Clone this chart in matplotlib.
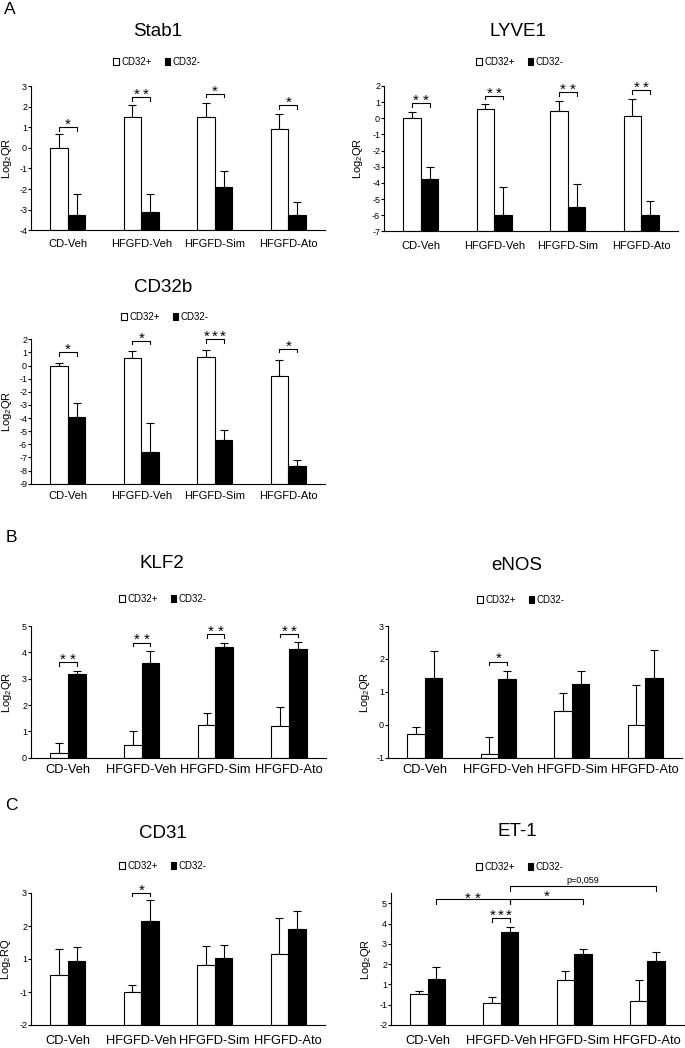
import matplotlib
matplotlib.use('Agg')
import matplotlib.pyplot as plt
from matplotlib.patches import Patch
import numpy as np

plt.rcParams['font.family'] = ['Liberation Sans', 'DejaVu Sans']

# ---------------- data ----------------
groups = ['CD-Veh', 'HFGFD-Veh', 'HFGFD-Sim', 'HFGFD-Ato']
legend_labels = ['CD32+', 'CD32-']

stab1_plus = [0.00, 1.48, 1.52, 0.92]
stab1_plus_err = [0.65, 0.58, 0.64, 0.73]
stab1_minus = [-3.27, -3.10, -1.90, -3.27]
stab1_minus_err = [1.04, 0.87, 0.77, 0.64]
stab1_sig = ['*', '**', '*', '*']
stab1_sig_y = [1.00, 2.45, 2.61, 2.06]

lyve1_plus = [0.00, 0.60, 0.45, 0.12]
lyve1_plus_err = [0.41, 0.27, 0.64, 1.06]
lyve1_minus = [-3.73, -5.98, -5.48, -5.96]
lyve1_minus_err = [0.74, 1.71, 1.42, 0.83]
lyve1_sig = ['**', '**', '**', '**']
lyve1_sig_y = [0.93, 1.40, 1.60, 1.73]

cd32b_plus = [0.00, 0.60, 0.65, -0.80]
cd32b_plus_err = [0.23, 0.53, 0.55, 1.24]
cd32b_minus = [-3.90, -6.59, -5.70, -7.68]
cd32b_minus_err = [1.02, 2.24, 0.79, 0.51]
cd32b_sig = ['*', '*', '***', '*']
cd32b_sig_y = [1.00, 1.88, 2.00, 1.28]

klf2_plus = [0.18, 0.50, 1.25, 1.21]
klf2_plus_err = [0.37, 0.52, 0.44, 0.70]
klf2_minus = [3.16, 3.58, 4.20, 4.14]
klf2_minus_err = [0.13, 0.47, 0.15, 0.24]
klf2_sig = ['**', '**', '**', '**']
klf2_sig_y = [3.62, 4.37, 4.68, 4.71]

enos_plus = [-0.29, -0.90, 0.43, -0.02]
enos_plus_err = [0.23, 0.53, 0.54, 1.24]
enos_minus = [1.43, 1.40, 1.23, 1.43]
enos_minus_err = [0.81, 0.23, 0.41, 0.85]
enos_sig = ['', '*', '', '']
enos_sig_y = [0, 1.92, 0, 0]

# CD31 and ET-1: axis positions as drawn (tick labels skip "0" in the original)
cd31_plus = [0.52, 0.00, 0.82, 1.15]
cd31_plus_err = [0.79, 0.21, 0.58, 1.09]
cd31_minus = [0.93, 2.16, 1.04, 1.91]
cd31_minus_err = [0.43, 0.63, 0.39, 0.54]
cd31_sig = ['', '*', '', '']
cd31_sig_y = [0, 3.00, 0, 0]
cd31_ticks = [-1, 0, 1, 2, 3]
cd31_ticklabels = ['-2', '-1', '1', '2', '3']

et1_plus = [0.52, 0.08, 1.21, 0.16]
et1_plus_err = [0.17, 0.28, 0.46, 1.07]
et1_minus = [1.28, 3.57, 2.49, 2.16]
et1_minus_err = [0.57, 0.25, 0.28, 0.46]
et1_sig = ['', '***', '', '']
et1_sig_y = [0, 4.26, 0, 0]
et1_ticks = [-1, 0, 1, 2, 3, 4, 5]
et1_ticklabels = ['-2', '-1', '1', '2', '3', '4', '5']
# cross-group comparisons (from HFGFD-Veh CD32-)
et1_cross_from = [0, 1, 1]
et1_cross_to = [1, 2, 3]
et1_cross_y = [5.22, 5.22, 5.87]
et1_cross_text = ['**', '*', 'p=0,059']

# ---------------- figure ----------------
W, H = 685, 1048
fig = plt.figure(figsize=(W / 100, H / 100), dpi=100)
BW = 0.24
LW = 0.8
STAR_FS = 11


def stars(ax, label, x, y, dy_pt):
    n = len(label)
    pitch = 7.0 if n == 2 else 5.9
    for k in range(n):
        ax.annotate('*', xy=(x, y), xytext=((k - (n - 1) / 2) * pitch, dy_pt),
                    textcoords='offset points', ha='center', va='baseline',
                    fontsize=STAR_FS, annotation_clip=False)


def axes_px(x0, x1, y0, y1):
    return fig.add_axes([x0 / W, 1 - y1 / H, (x1 - x0) / W, (y1 - y0) / H])


def panel(box, title, title_xy, legend_xy, ylabel, ylabel_x, ylim, yticks, yticklabels,
          plus, plus_err, minus, minus_err, sig, sig_y, xfs, xpad):
    ax = axes_px(*box)
    x = np.arange(len(groups))
    ymin = ylim[0]
    ax.bar(x - BW / 2, np.array(plus) - ymin, BW, bottom=ymin, color='white',
           edgecolor='black', linewidth=LW, zorder=2)
    ax.bar(x + BW / 2, np.array(minus) - ymin, BW, bottom=ymin, color='black',
           edgecolor='black', linewidth=LW, zorder=2)
    ax.errorbar(x - BW / 2, plus, yerr=[np.zeros(4), plus_err], fmt='none', ecolor='black',
                elinewidth=LW, capsize=3.2, capthick=LW, zorder=1)
    ax.errorbar(x + BW / 2, minus, yerr=[np.zeros(4), minus_err], fmt='none', ecolor='black',
                elinewidth=LW, capsize=3.2, capthick=LW, zorder=1)
    ax.set_xlim(-0.5, 3.5)
    ax.set_ylim(ylim)
    for s in ['top', 'right']:
        ax.spines[s].set_visible(False)
    for s in ['left', 'bottom']:
        ax.spines[s].set_linewidth(LW)
    ax.set_xticks(x)
    ax.set_xticklabels(groups, fontsize=xfs)
    ax.tick_params(axis='x', length=0, pad=xpad)
    ax.set_yticks(yticks)
    ax.set_yticklabels(yticklabels, fontsize=6.5)
    ax.tick_params(axis='y', direction='out', length=2, width=LW, pad=0.8)

    hpx = box[3] - box[2]
    upp = (ylim[1] - ylim[0]) / hpx  # data units per pixel
    for i, (s, yb) in enumerate(zip(sig, sig_y)):
        if not s:
            continue
        x1, x2 = i - BW / 2, i + BW / 2
        d = 3.3 * upp
        ax.plot([x1, x1, x2, x2], [yb - d, yb, yb, yb - d], color='black', lw=LW,
                clip_on=False, zorder=3)
        stars(ax, s, i, yb, -1.2)

    fig.text(title_xy[0] / W, 1 - title_xy[1] / H, title, ha='center', va='center',
             fontsize=13.5)
    handles = [Patch(facecolor='white', edgecolor='black', linewidth=LW),
               Patch(facecolor='black', edgecolor='black', linewidth=LW)]
    fig.legend(handles, legend_labels, loc='center',
               bbox_to_anchor=(legend_xy[0] / W, 1 - legend_xy[1] / H), ncol=2,
               frameon=False, fontsize=7, handlelength=0.6, handleheight=0.6,
               handletextpad=0.25, columnspacing=1.3, borderpad=0, borderaxespad=0)
    cy = (box[2] + box[3]) / 2
    fig.text(ylabel_x / W, 1 - cy / H, ylabel, rotation=90, ha='center', va='center',
             fontsize=8)
    return ax, upp


LQR = 'Log$_\\mathregular{2}$QR'
LRQ = 'Log$_\\mathregular{2}$RQ'

panel((31, 325, 86, 230.3), 'Stab1', (158, 31), (157, 62), LQR, 7.5, (-4, 3),
      list(range(-4, 4)), [str(v) for v in range(-4, 4)],
      stab1_plus, stab1_plus_err, stab1_minus, stab1_minus_err, stab1_sig, stab1_sig_y, 8, 6.3)

panel((384, 678, 86, 231.3), 'LYVE1', (518, 31), (520, 62), LQR, 358, (-7, 2),
      list(range(-7, 3)), [str(v) for v in range(-7, 3)],
      lyve1_plus, lyve1_plus_err, lyve1_minus, lyve1_minus_err, lyve1_sig, lyve1_sig_y, 8, 6.7)

panel((31, 325, 339.3, 483.7), 'CD32b', (163, 287), (165, 317), LQR, 7.5, (-9, 2),
      list(range(-9, 3)), [str(v) for v in range(-9, 3)],
      cd32b_plus, cd32b_plus_err, cd32b_minus, cd32b_minus_err, cd32b_sig, cd32b_sig_y, 8, 5.2)

panel((31, 326, 626, 757.7), 'KLF2', (162, 563), (163, 599), LQR, 7.5, (0, 5),
      list(range(0, 6)), [str(v) for v in range(0, 6)],
      klf2_plus, klf2_plus_err, klf2_minus, klf2_minus_err, klf2_sig, klf2_sig_y, 9.3, 4.5)

panel((388, 682, 626, 757.7), 'eNOS', (517, 565), (521, 600), LQR, 365, (-1, 3),
      list(range(-1, 4)), [str(v) for v in range(-1, 4)],
      enos_plus, enos_plus_err, enos_minus, enos_minus_err, enos_sig, enos_sig_y, 9.3, 4.5)

panel((31, 325, 893, 1025), 'CD31', (163, 833), (163, 866), LRQ, 6, (-1, 3),
      cd31_ticks, cd31_ticklabels,
      cd31_plus, cd31_plus_err, cd31_minus, cd31_minus_err, cd31_sig, cd31_sig_y, 9.3, 7.0)

ax_et, upp = panel((391, 684, 893.2, 1025), 'ET-1', (517, 832), (520, 867), LQR, 366, (-1, 5.5),
                   et1_ticks, et1_ticklabels,
                   et1_plus, et1_plus_err, et1_minus, et1_minus_err, et1_sig, et1_sig_y, 9.3, 7.0)

for g1, g2, yb, txt in zip(et1_cross_from, et1_cross_to, et1_cross_y, et1_cross_text):
    x1, x2 = g1 + BW / 2, g2 + BW / 2
    d = 5 * upp
    ax_et.plot([x1, x1, x2, x2], [yb - d, yb, yb, yb - d], color='black', lw=LW,
               clip_on=False, zorder=3)
    if txt.startswith('p'):
        ax_et.annotate(txt, xy=((x1 + x2) / 2, yb), xytext=(0, 2.2), textcoords='offset points',
                       ha='center', va='baseline', fontsize=6.5, annotation_clip=False)
    else:
        stars(ax_et, txt, (x1 + x2) / 2, yb, -2.8 if len(txt) == 2 else -1.6)

# panel letters
for letter, (lx, ly) in zip(['A', 'B', 'C'], [(10, 10), (11, 537), (11.5, 805)]):
    fig.text(lx / W, 1 - ly / H, letter, ha='center', va='center', fontsize=12.5)

fig.savefig('out.png', dpi=100)
